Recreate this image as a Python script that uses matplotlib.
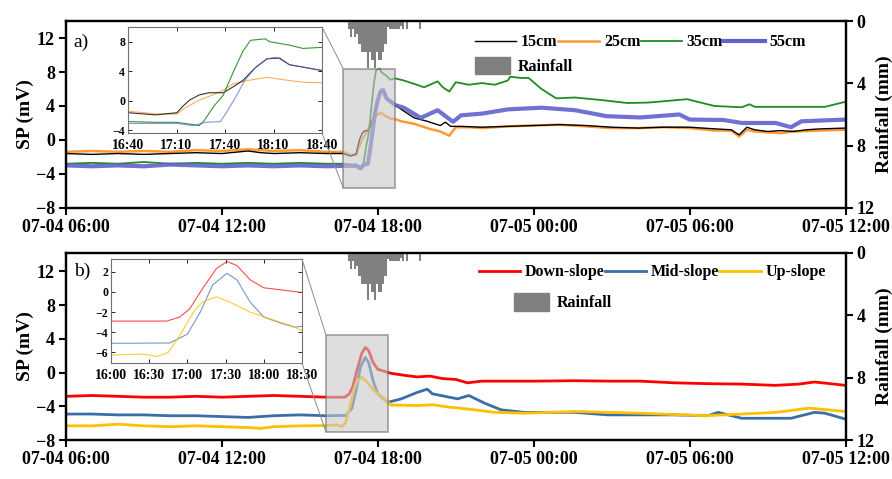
import matplotlib
matplotlib.use('Agg')
import matplotlib.pyplot as plt
from matplotlib.patches import Rectangle, Patch, ConnectionPatch
from matplotlib.lines import Line2D

plt.rcParams['font.family'] = ['Liberation Serif', 'DejaVu Serif']
plt.rcParams['font.weight'] = 'bold'
plt.rcParams['axes.labelweight'] = 'bold'

# time in hours since 07-04 00:00
# ---- panel a) SP at depth ----
t_15 = [6.0, 7.0, 8.0, 9.0, 10.0, 11.0, 12.0, 13.0, 13.5, 14.0, 15.0, 16.0, 16.67, 16.95, 17.17, 17.23, 17.3, 17.4,
        17.5, 17.65, 17.75, 17.85, 17.98, 18.1, 18.23, 18.33, 18.5, 18.67, 19.0, 19.4, 19.9, 20.4, 20.6, 20.8,
        21.2, 22.0, 23.0, 24.0, 25.0, 26.0, 27.0, 28.0, 29.0, 30.0, 31.0, 31.6, 31.9, 32.2, 32.5, 33.0, 33.5,
        34.0, 34.5, 35.0, 36.0]
sp_15 = [-1.6, -1.7, -1.6, -1.7, -1.6, -1.5, -1.6, -1.3, -1.5, -1.6, -1.5, -1.6, -1.6, -1.9, -1.6, -0.75, 0.1, 0.8,
         1.1, 1.1, 1.9, 2.75, 4.5, 5.7, 5.8, 4.9, 4.5, 4.1, 3.4, 2.6, 2.2, 1.7, 2.1, 1.6,
         1.6, 1.5, 1.6, 1.7, 1.8, 1.7, 1.5, 1.4, 1.5, 1.5, 1.3, 1.2, 0.6, 1.5, 1.2, 1.0, 1.1,
         1.0, 1.2, 1.3, 1.4]

t_25 = [6.0, 7.0, 8.0, 9.0, 10.0, 11.0, 12.0, 13.0, 14.0, 15.0, 16.0, 16.67, 16.95, 17.17, 17.25, 17.4, 17.5,
        17.65, 17.75, 17.9, 18.1, 18.2, 18.33, 18.5, 18.67, 18.9, 19.4, 20.0, 20.4, 20.75, 21.0, 21.5, 22.0,
        23.0, 24.0, 25.0, 26.0, 27.0, 28.0, 29.0, 30.0, 31.0, 31.6, 31.9, 32.2, 32.5, 33.0, 33.5, 34.0, 35.0, 36.0]
sp_25 = [-1.4, -1.3, -1.4, -1.3, -1.4, -1.2, -1.3, -1.1, -1.3, -1.2, -1.4, -1.4, -1.75, -1.8, -1.0, 0.1, 0.6,
         1.45, 2.3, 2.75, 3.2, 3.0, 2.75, 2.5, 2.45, 2.2, 1.9, 1.3, 1.0, 0.5, 1.5, 1.5, 1.4,
         1.6, 1.7, 1.8, 1.6, 1.4, 1.4, 1.5, 1.4, 1.1, 1.1, 0.4, 1.2, 1.0, 0.9, 0.8, 1.0, 1.1, 1.2]

t_35 = [6.0, 7.0, 8.0, 9.0, 10.0, 11.0, 12.0, 13.0, 14.0, 15.0, 16.0, 16.67, 16.95, 17.17, 17.33, 17.4, 17.45,
        17.55, 17.65, 17.75, 17.85, 17.93, 18.08, 18.13, 18.33, 18.47, 18.67, 19.0, 19.5, 19.78, 20.3, 20.5,
        20.75, 21.0, 21.5, 22.0, 22.5, 23.0, 23.1, 23.5, 23.8, 24.3, 24.86, 25.57, 26.6, 27.6, 28.4, 29.9,
        30.95, 32.0, 32.3, 32.5, 33.3, 35.2, 36.0]
sp_35 = [-2.8, -2.7, -2.8, -2.6, -2.8, -2.7, -2.8, -2.7, -2.8, -2.7, -2.8, -2.8, -2.9, -2.9, -3.2, -3.35, -2.7,
         -0.75, 0.8, 3.85, 6.7, 8.2, 8.4, 8.0, 7.55, 7.1, 7.25, 7.0, 6.5, 6.2, 6.9, 6.2,
         5.7, 6.8, 6.5, 6.7, 6.5, 7.0, 7.45, 7.3, 7.3, 6.0, 4.9, 5.0, 4.7, 4.35, 4.4, 4.8,
         4.0, 3.85, 4.2, 3.9, 3.9, 3.9, 4.5]

t_55 = [6.0, 7.0, 8.0, 9.0, 10.0, 11.0, 12.0, 13.0, 14.0, 15.0, 16.0, 16.67, 17.17, 17.33, 17.47, 17.62, 17.67,
        17.77, 17.87, 17.98, 18.1, 18.2, 18.33, 18.5, 18.67, 19.0, 19.65, 20.3, 20.8, 20.9, 21.2, 22.0, 23.0,
        24.3, 25.6, 26.8, 28.1, 29.6, 30.0, 31.3, 32.0, 33.3, 33.9, 34.3, 36.0]
sp_55 = [-3.0, -3.1, -3.0, -3.1, -2.9, -3.0, -3.1, -3.0, -3.1, -3.0, -3.1, -3.05, -3.05, -3.35, -2.9, -2.8, -1.8,
         0.35, 2.75, 4.5, 5.7, 5.9, 4.9, 4.5, 4.1, 3.8, 2.6, 3.5, 2.35, 2.15, 2.9, 3.1, 3.6,
         3.8, 3.5, 2.8, 2.65, 3.0, 2.4, 2.35, 2.0, 2.0, 1.5, 2.2, 2.4]

# ---- panel b) SP along slope ----
t_down = [6.0, 7.0, 8.0, 9.0, 10.0, 11.0, 12.0, 13.0, 14.0, 15.0, 16.0, 16.73, 16.9, 17.03, 17.2, 17.38, 17.52,
          17.65, 17.82, 18.0, 18.25, 18.5, 19.0, 19.5, 20.0, 20.5, 21.0, 21.45, 22.0, 23.0, 24.0, 25.6, 27.0,
          28.1, 29.4, 30.7, 32.0, 33.3, 34.2, 34.8, 36.0]
sp_down = [-2.8, -2.7, -2.8, -2.9, -2.9, -2.8, -2.9, -2.8, -2.7, -2.8, -2.9, -2.9, -2.5, -1.7, 0.33, 2.3, 3.0,
           2.6, 1.2, 0.4, 0.17, -0.07, -0.3, -0.5, -0.4, -0.7, -0.8, -1.2, -1.0, -1.0, -1.0, -0.95, -1.0,
           -1.0, -1.2, -1.3, -1.35, -1.5, -1.35, -1.1, -1.5]

t_mid = [6.0, 7.0, 8.0, 9.0, 10.0, 11.0, 12.0, 13.0, 14.0, 15.0, 16.0, 16.77, 17.0, 17.17, 17.33, 17.52, 17.65,
         17.82, 18.0, 18.22, 18.4, 18.9, 19.5, 19.9, 20.1, 20.42, 21.07, 21.5, 22.1, 22.74, 23.64, 25.57, 26.85,
         29.4, 30.7, 31.1, 32.0, 33.9, 34.8, 35.2, 36.0]
sp_mid = [-4.9, -4.9, -5.0, -5.0, -5.1, -5.1, -5.2, -5.3, -5.1, -5.0, -5.1, -5.07, -4.2, -2.0, 0.67, 1.83, 1.17,
          -1.0, -2.5, -3.1, -3.5, -3.1, -2.35, -1.95, -2.5, -2.7, -3.1, -2.7, -3.6, -4.4, -4.7, -4.7, -5.0,
          -5.0, -5.1, -4.7, -5.4, -5.4, -4.7, -4.8, -5.5]

t_up = [6.0, 7.0, 8.0, 9.0, 10.0, 11.0, 12.0, 13.0, 13.5, 14.0, 15.0, 16.0, 16.42, 16.6, 16.75, 16.9, 17.08,
        17.2, 17.38, 17.55, 17.82, 18.08, 18.33, 18.5, 18.88, 19.5, 20.1, 20.8, 21.45, 22.5, 23.64, 25.57,
        28.1, 30.6, 32.0, 33.3, 34.6, 36.0]
sp_up = [-6.3, -6.3, -6.1, -6.3, -6.4, -6.3, -6.4, -6.5, -6.6, -6.4, -6.3, -6.27, -6.17, -6.4, -6.0, -4.33, -2.0,
         -1.0, -0.5, -1.0, -2.0, -2.67, -3.27, -3.83, -3.85, -3.9, -3.8, -4.1, -4.3, -4.7, -4.8, -4.6,
         -4.8, -5.1, -4.9, -4.7, -4.2, -4.6]

# ---- rainfall, 5-min totals (mm), bin start time ----
rain_t = [16.833, 16.917, 17.0, 17.083, 17.167, 17.25, 17.333, 17.417, 17.5, 17.583, 17.667, 17.75, 17.833,
          17.917, 18.0, 18.083, 18.167, 18.25, 18.333, 18.417, 18.5, 18.583, 18.667, 18.75, 18.833, 18.917,
          19.083, 19.583]
rain_mm = [0.5, 1.0, 0.5, 1.0, 0.85, 1.5, 2.0, 2.0, 2.0, 3.0, 2.0, 2.5, 3.0,
           2.0, 2.5, 2.5, 2.0, 1.5, 0.4, 0.5, 0.5, 0.5, 0.5, 0.5, 0.3, 0.5,
           0.5, 0.5]

main_ticks = [6, 12, 18, 24, 30, 36]
main_labels = ['07-04 06:00', '07-04 12:00', '07-04 18:00', '07-05 00:00', '07-05 06:00', '07-05 12:00']
ins_a_ticks = [16 + 40 / 60, 17 + 10 / 60, 17 + 40 / 60, 18 + 10 / 60, 18 + 40 / 60]
ins_a_labels = ['16:40', '17:10', '17:40', '18:10', '18:40']
ins_b_ticks = [16.0, 16.5, 17.0, 17.5, 18.0, 18.5]
ins_b_labels = ['16:00', '16:30', '17:00', '17:30', '18:00', '18:30']

fig = plt.figure(figsize=(8.92, 4.79), dpi=100)
ax_a = fig.add_axes([0.074, 0.566, 0.874, 0.390])
ax_b = fig.add_axes([0.074, 0.081, 0.874, 0.391])

c_15, c_25, c_35, c_55 = '#000000', '#FF9933', '#1E8C1E', '#6262CC'
c_down, c_mid, c_up = '#FF0000', '#3A6EA8', '#FFC000'
rain_c = '#808080'
box_a = (16 + 40 / 60, 18 + 40 / 60, -5.6, 8.4)
box_b = (16.0, 18.4, -7.0, 4.5)


def bold_ticks(ax):
    for lbl in ax.get_xticklabels() + ax.get_yticklabels():
        lbl.set_fontweight('bold')


def style_main(ax, ylim):
    ax.set_xlim(6, 36)
    ax.set_ylim(*ylim)
    ax.set_xticks(main_ticks)
    ax.set_xticklabels(main_labels)
    ax.set_yticks([-8, -4, 0, 4, 8, 12])
    ax.tick_params(direction='out', length=5, width=1.5, labelsize=13, pad=3)
    for s in ax.spines.values():
        s.set_linewidth(1.6)
    ax.set_ylabel('SP (mV)', fontsize=14, fontweight='bold', labelpad=1)
    bold_ticks(ax)


def rain_axis(ax):
    ax2 = ax.twinx()
    ax2.bar(rain_t, rain_mm, width=5 / 60, align='edge', color=rain_c, linewidth=0)
    ax2.set_ylim(12, 0)
    ax2.set_yticks([0, 4, 8, 12])
    ax2.tick_params(direction='out', length=5, width=1.5, labelsize=13, pad=3)
    ax2.set_ylabel('Rainfall (mm)', fontsize=14, fontweight='bold', labelpad=1)
    for s in ax2.spines.values():
        s.set_linewidth(1.6)
    bold_ticks(ax2)
    return ax2


def style_inset(ins, xlim, ylim, xt, xl, yt):
    ins.set_xlim(*xlim)
    ins.set_ylim(*ylim)
    ins.set_xticks(xt)
    ins.set_xticklabels(xl)
    ins.set_yticks(yt)
    ins.tick_params(axis='x', direction='in', length=3, width=0.6, labelsize=10, top=True, pad=4)
    ins.tick_params(axis='y', direction='in', length=3, width=0.6, labelsize=8.5, right=True, pad=2)
    for s in ins.spines.values():
        s.set_linewidth(0.8)
        s.set_edgecolor('#707070')
    bold_ticks(ins)


def zoom_box(ax, ins, box):
    x0, x1, y0, y1 = box
    ax.add_patch(Rectangle((x0, y0), x1 - x0, y1 - y0, facecolor='#C8C8C8', alpha=0.6,
                           edgecolor='#707070', linewidth=1.3, zorder=6))
    for iy, by in [(1, y1), (0, y0)]:
        cp = ConnectionPatch(xyA=(1, iy), coordsA=ins.transAxes, xyB=(x0, by), coordsB=ax.transData,
                             color='#8C8C8C', linewidth=0.7)
        fig.add_artist(cp)


leg_kw = dict(frameon=False, handletextpad=0.3, columnspacing=0.0, borderpad=0.2,
              prop={'size': 11.5, 'weight': 'bold'})
rain_kw = dict(frameon=False, handlelength=2.2, handleheight=1.3, handletextpad=0.5, borderpad=0.2,
               prop={'size': 11.5, 'weight': 'bold'})

# ---------------- panel a ----------------
style_main(ax_a, (-8, 14))
ax_a.plot(t_25, sp_25, color=c_25, lw=1.8)
ax_a.plot(t_15, sp_15, color=c_15, lw=1.0)
ax_a.plot(t_35, sp_35, color=c_35, lw=1.3)
ax_a.plot(t_55, sp_55, color=c_55, lw=3.0, alpha=0.9)
ax_a.text(0.01, 0.93, 'a)', transform=ax_a.transAxes, fontsize=14, fontweight='normal', va='top')
ra = rain_axis(ax_a)

h_a = [Line2D([], [], color=c_15, lw=1.0), Line2D([], [], color=c_25, lw=1.8),
       Line2D([], [], color=c_35, lw=1.3), Line2D([], [], color=c_55, lw=3.0)]
ax_a.legend(h_a, ['15cm', '25cm', '35cm', '55cm'], ncol=4, loc='upper left',
            bbox_to_anchor=(0.51, 0.99), handlelength=2.6, **leg_kw)
ra.legend([Patch(color=rain_c)], ['Rainfall'], loc='upper left', bbox_to_anchor=(0.51, 0.87), **rain_kw)

ins_a = fig.add_axes([0.1435, 0.7223, 0.2175, 0.2213])
ins_a.plot(t_25, sp_25, color=c_25, lw=0.8, alpha=0.8)
ins_a.plot(t_15, sp_15, color=c_15, lw=0.8, alpha=0.8)
ins_a.plot(t_35, sp_35, color=c_35, lw=0.8, alpha=0.9)
ins_a.plot(t_55, sp_55, color=c_55, lw=0.8, alpha=0.7)
style_inset(ins_a, (ins_a_ticks[0], ins_a_ticks[-1]), (-4.35, 10), ins_a_ticks, ins_a_labels, [-4, 0, 4, 8])
zoom_box(ax_a, ins_a, box_a)

# ---------------- panel b ----------------
style_main(ax_b, (-8, 14.2))
ax_b.plot(t_down, sp_down, color=c_down, lw=2.0)
ax_b.plot(t_mid, sp_mid, color=c_mid, lw=2.0)
ax_b.plot(t_up, sp_up, color=c_up, lw=2.0)
ax_b.text(0.01, 0.95, 'b)', transform=ax_b.transAxes, fontsize=14, fontweight='normal', va='top')
rb = rain_axis(ax_b)

h_b = [Line2D([], [], color=c_down, lw=2.0), Line2D([], [], color=c_mid, lw=2.0),
       Line2D([], [], color=c_up, lw=2.0)]
ax_b.legend(h_b, ['Down-slope', 'Mid-slope', 'Up-slope'], ncol=3, loc='upper left',
            bbox_to_anchor=(0.515, 1.0), handlelength=2.6, **leg_kw)
rb.legend([Patch(color=rain_c)], ['Rainfall'], loc='upper left', bbox_to_anchor=(0.56, 0.845), **rain_kw)

ins_b = fig.add_axes([0.1244, 0.2422, 0.2141, 0.2171])
ins_b.plot(t_down, sp_down, color=c_down, lw=0.8, alpha=0.7)
ins_b.plot(t_mid, sp_mid, color=c_mid, lw=0.8, alpha=0.7)
ins_b.plot(t_up, sp_up, color=c_up, lw=0.8, alpha=0.8)
style_inset(ins_b, (16.0, 18.5), (-7.05, 3.25), ins_b_ticks, ins_b_labels, [-6, -4, -2, 0, 2])
zoom_box(ax_b, ins_b, box_b)

fig.savefig('out.png', dpi=100)
